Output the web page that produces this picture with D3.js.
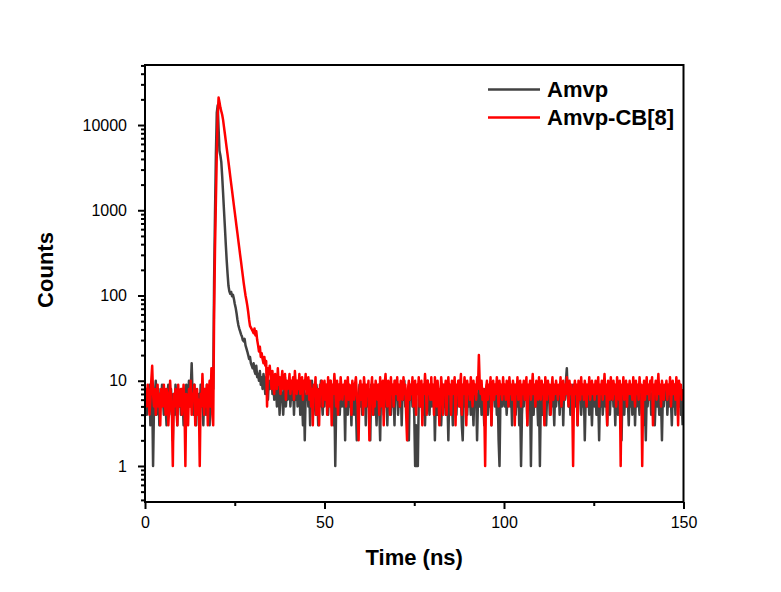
<!DOCTYPE html>
<html>
<head>
<meta charset="utf-8">
<script src="https://cdn.jsdelivr.net/npm/d3@7"></script>
<style>
  body { margin: 0; background: #fff; }
  text { font-family: "Liberation Sans", Arial, sans-serif; }
</style>
</head>
<body>
<script>
'use strict';

// channel width of the decay histogram (ns)
const channelWidth = 0.25;
const seriesNames = ['Amvp', 'Amvp-CB[8]'];
const seriesColors = ['#424242', '#ff0000'];
const xTicks = [0, 50, 100, 150];
const xMinorTicks = [25, 75, 125];
const yTicks = [1, 10, 100, 1000, 10000];

// Amvp counts, one row = 5 ns
const amvpCounts = [
  5,7,4,8,6,9,3,6,8,1,5,7,10,4,6,8,3,7,5,9,
  6,4,8,5,3,7,9,4,6,8,5,2,7,4,9,6,3,8,5,7,
  4,8,6,3,7,5,9,4,6,10,5,8,16,7,4,9,6,3,7,5,
  7,4,9,5,6,3,8,6,4,9,5,7,3,8,6,10,8,150,900,4500,
  14000,17000,9000,5000,4400,3700,2500,1600,1000,640,400,260,180,130,112,105,110,98,102,92,
  80,72,62,52,45,41,38,35,33,30,29,31,26,24,22,20,18,19,16,15,
  14,16,13,12,15,11,12,10,13,9,11,8,12,10,7,11,9,6,10,8,
  9,12,7,10,6,11,8,5,9,7,4,10,8,6,4,7,11,5,8,6,
  7,10,5,8,6,9,4,8,6,10,5,7,9,4,8,6,3,9,2,7,
  6,9,5,8,3,7,10,5,8,6,4,9,7,3,8,5,10,6,4,8,
  5,8,6,9,4,7,10,5,8,6,3,7,1,5,8,6,9,4,7,5,
  8,5,7,2,9,6,4,8,5,7,3,9,6,4,8,5,2,7,6,9,
  5,8,4,7,6,9,3,7,5,8,6,2,9,5,7,4,8,6,3,7,
  9,5,2,8,6,7,4,9,5,8,3,7,6,9,4,8,5,7,3,10,
  6,8,4,7,5,9,3,8,6,10,5,7,4,2,2,8,6,9,5,7,
  4,1,3,1,1,6,8,5,9,4,7,6,3,8,5,10,6,4,8,5,
  7,5,8,2,6,9,4,7,5,8,3,6,9,5,7,4,8,6,2,7,
  5,8,6,3,9,5,7,4,8,6,10,5,7,3,2,6,8,5,9,4,
  8,5,7,4,9,6,3,8,5,7,2,6,9,5,8,4,7,6,3,8,
  6,9,4,7,5,8,3,7,6,9,5,8,4,7,2,1,6,8,5,7,
  9,5,7,4,8,6,10,5,7,3,8,6,9,4,7,5,8,3,6,1,
  4,7,5,8,6,9,3,7,5,8,1,6,9,4,7,5,8,6,3,7,
  1,6,8,4,7,5,9,3,7,6,8,4,7,5,9,6,3,8,5,7,
  6,8,4,7,5,9,3,8,6,10,14,7,5,8,4,7,6,9,5,8,
  5,7,3,8,6,9,4,7,5,8,2,6,9,5,7,4,8,6,3,7,
  8,5,7,4,9,6,2,7,5,8,4,6,9,5,7,3,8,6,4,7,
  6,9,5,7,3,8,6,4,9,5,7,2,8,6,4,7,5,9,6,3,
  7,5,8,4,6,9,3,7,5,8,6,4,9,5,7,3,8,6,2,7,
  5,8,6,9,4,7,5,8,3,6,9,5,7,4,8,6,2,7,5,8,
  6,9,4,7,5,8,6,3,7,5,9,4,8,6,7,5,9,4,6,3
];

// Amvp-CB[8] counts, one row = 5 ns
const amvpCB8Counts = [
  6,8,5,9,7,4,6,10,15,7,5,8,4,6,9,5,7,3,8,6,
  5,9,6,4,8,7,3,5,10,6,4,1,7,5,8,6,3,9,5,7,
  8,4,6,9,5,1,7,6,3,8,5,10,4,7,6,9,3,5,8,4,
  6,1,7,5,12,6,4,8,5,9,3,7,10,5,14,4,3,60,350,1300,
  4500,13000,21000,18500,16000,14500,13200,11500,9500,7900,6500,5400,4500,3700,3050,2500,2050,1700,1400,1150,
  950,785,645,535,440,365,300,250,205,170,140,118,100,88,76,64,52,44,42,40,
  38,36,41,34,38,30,26,22,25,19,21,18,16,19,15,17,5,14,12,15,
  11,8,13,9,7,12,10,8,14,9,11,7,10,13,8,9,12,6,10,8,
  9,12,7,10,8,11,6,13,9,7,10,8,12,7,9,11,6,10,8,12,
  7,9,11,6,10,5,8,3,9,7,11,4,8,6,3,9,7,10,5,8,
  10,6,9,4,11,5,8,10,3,9,7,12,8,5,10,4,9,6,11,8,
  6,9,7,10,5,8,11,6,9,7,4,10,8,6,9,11,7,5,2,8,
  10,6,9,4,11,8,5,9,7,10,2,6,8,11,4,9,5,10,8,6,
  9,4,11,5,8,10,3,9,12,7,5,10,8,4,11,7,9,5,10,8,
  7,11,6,9,5,10,8,6,11,7,9,4,2,8,10,6,9,7,11,5,
  8,10,4,9,7,11,5,8,10,3,9,7,12,8,4,10,7,9,6,11,
  6,9,4,11,8,5,10,7,3,6,11,8,4,9,7,10,4,8,11,7,
  9,4,10,7,8,11,3,9,7,10,5,8,12,4,9,7,11,8,3,10,
  7,9,6,11,8,5,10,7,9,6,11,8,20,9,7,10,6,8,5,1,
  8,10,6,9,7,11,3,8,10,6,9,7,11,8,5,10,7,9,6,11,
  7,9,6,10,8,5,11,7,9,6,10,8,3,9,7,11,6,8,10,5,
  9,7,10,6,8,11,3,9,7,10,6,8,12,7,9,5,10,8,6,11,
  8,6,10,7,9,3,11,8,6,10,7,9,4,8,11,6,9,7,10,8,
  6,9,7,11,5,8,10,6,9,7,11,8,5,10,7,9,6,1,8,10,
  7,9,3,10,8,6,11,7,9,6,10,8,5,9,7,11,6,8,10,7,
  9,6,10,7,8,11,5,9,7,10,6,8,12,7,9,3,10,8,6,11,
  8,6,10,7,9,5,11,8,6,10,1,9,7,11,6,8,10,5,9,7,
  10,7,9,6,11,8,5,10,7,9,6,11,8,9,1,7,10,6,8,11,
  7,9,6,10,8,11,3,9,7,10,6,8,12,7,9,5,10,8,6,9,
  8,10,6,9,7,11,5,8,10,7,9,6,11,8,3,10,7,9,6,8
];

const w = 781;
const h = 592;
const plot = {left: 145, right: 683.5, top: 65, bottom: 502};

const svg = d3.select('body')
  .append('svg')
  .attr('width', w)
  .attr('height', h);

svg.append('rect')
  .attr('width', w)
  .attr('height', h)
  .attr('fill', '#fff');

const xScale = d3.scaleLinear()
  .domain([0, 150])
  .range([plot.left, plot.right]);

const yScale = d3.scaleLog()
  .domain([0.378, 50600])
  .range([plot.bottom, plot.top]);

// minor ticks for the log axis: 2..9 of every decade
const yMinorTicks = [];
[0.1, 1, 10, 100, 1000, 10000].forEach(dec => {
  for (let k = 2; k <= 9; k++) {
    const v = k * dec;
    if (v > yScale.domain()[0] && v < yScale.domain()[1]) yMinorTicks.push(v);
  }
});

// clip the traces to the frame
svg.append('clipPath')
  .attr('id', 'plot-clip')
  .append('rect')
  .attr('x', plot.left)
  .attr('y', plot.top)
  .attr('width', plot.right - plot.left)
  .attr('height', plot.bottom - plot.top);

const line = d3.line()
  .x((d, i) => xScale(i * channelWidth))
  .y(d => yScale(d));

const traces = svg.append('g').attr('clip-path', 'url(#plot-clip)');
[amvpCounts, amvpCB8Counts].forEach((counts, k) => {
  traces.append('path')
    .datum(counts)
    .attr('fill', 'none')
    .attr('stroke', seriesColors[k])
    .attr('stroke-width', 2.5)
    .attr('stroke-linejoin', 'round')
    .attr('d', line);
});

// x axis
svg.append('g')
  .attr('transform', 'translate(0,' + plot.bottom + ')')
  .call(d3.axisBottom(xScale).tickValues(xTicks).tickSize(7).tickPadding(8).tickFormat(d3.format('d')));
svg.append('g')
  .attr('transform', 'translate(0,' + plot.bottom + ')')
  .call(d3.axisBottom(xScale).tickValues(xMinorTicks).tickSize(4).tickFormat(''));

// y axis
svg.append('g')
  .attr('transform', 'translate(' + plot.left + ',0)')
  .call(d3.axisLeft(yScale).tickValues(yTicks).tickSize(7).tickPadding(11).tickFormat(d3.format('d')));
svg.append('g')
  .attr('transform', 'translate(' + plot.left + ',0)')
  .call(d3.axisLeft(yScale).tickValues(yMinorTicks).tickSize(4).tickFormat(''));

svg.selectAll('.domain').remove();
svg.selectAll('.tick line').attr('stroke', '#000').attr('stroke-width', 2);
svg.selectAll('.tick text')
  .attr('fill', '#000')
  .style('font-size', '16px')
  .style('font-family', '"Liberation Sans", Arial, sans-serif');

// frame
svg.append('rect')
  .attr('x', plot.left)
  .attr('y', plot.top)
  .attr('width', plot.right - plot.left)
  .attr('height', plot.bottom - plot.top)
  .attr('fill', 'none')
  .attr('stroke', '#000')
  .attr('stroke-width', 2);

// axis titles
svg.append('text')
  .attr('x', (plot.left + plot.right) / 2)
  .attr('y', 565)
  .attr('text-anchor', 'middle')
  .style('font-size', '22px')
  .style('font-weight', 'bold')
  .text('Time (ns)');

svg.append('text')
  .attr('transform', 'translate(53,270) rotate(-90)')
  .attr('text-anchor', 'middle')
  .style('font-size', '22px')
  .style('font-weight', 'bold')
  .text('Counts');

// legend
const legend = svg.append('g');
seriesNames.forEach((name, k) => {
  const ly = 89.5 + k * 28;
  legend.append('line')
    .attr('x1', 488).attr('x2', 540)
    .attr('y1', ly).attr('y2', ly)
    .attr('stroke', seriesColors[k])
    .attr('stroke-width', 2.5);
  legend.append('text')
    .attr('x', 547)
    .attr('y', ly + 7.5)
    .style('font-size', '22px')
    .style('font-weight', 'bold')
    .text(name);
});
</script>
</body>
</html>
